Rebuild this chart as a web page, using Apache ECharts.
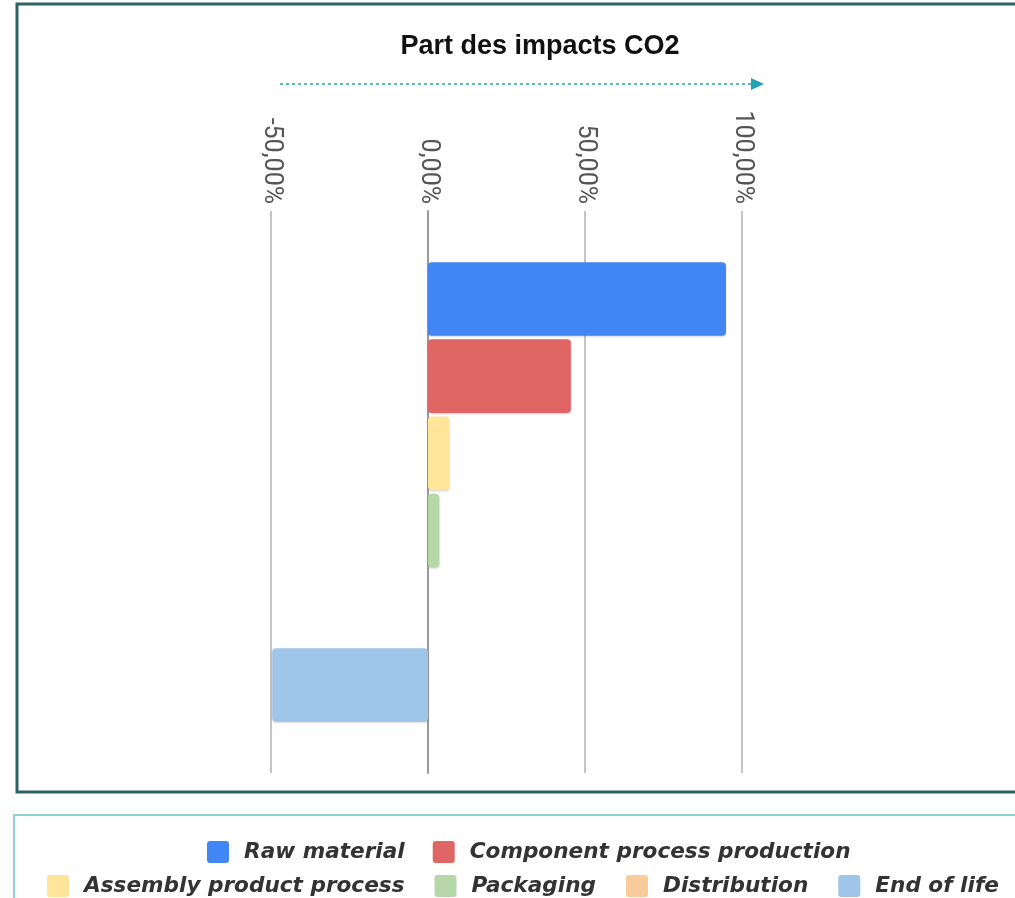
<!DOCTYPE html>
<html>
<head>
<meta charset="utf-8">
<script src="https://cdn.jsdelivr.net/npm/echarts@6/dist/echarts.min.js"></script>
<style>
html,body{margin:0;padding:0;background:#fff;}
#chart{width:1015px;height:898px;}
</style>
</head>
<body>
<div id="chart"></div>
<script>
// ---- data ----
var categories = ['CO2'];
var seriesNames = ['Raw material', 'Component process production', 'Assembly product process', 'Packaging', 'Distribution', 'End of life'];
var seriesValues = [94.9, 45.5, 6.8, 3.6, 0, -49.6];
var seriesColors = ['#4285F4', '#E06666', '#FFE599', '#B6D7A8', '#F9CB9C', '#9FC5E8'];
var xTicks = [-50, 0, 50, 100];
var titleText = 'Part des impacts CO2';

var chart = echarts.init(document.getElementById('chart'));

var series = seriesNames.map(function (name, i) {
  return {
    name: name,
    type: 'bar',
    data: [seriesValues[i]],
    barGap: '5%',
    barCategoryGap: '18.2%',
    itemStyle: {
      color: seriesColors[i],
      borderRadius: 4,
      shadowColor: 'rgba(0,0,0,0.18)',
      shadowBlur: 2,
      shadowOffsetY: 1
    }
  };
});

var legendText = {
  color: '#333',
  fontFamily: 'DejaVu Sans',
  fontStyle: 'italic',
  fontWeight: 'bold',
  fontSize: 21.6,
  padding: [0, 0, 0, 10]
};
var legendIcon = 'path://M3,0 L19,0 Q22,0 22,3 L22,19 Q22,22 19,22 L3,22 Q0,22 0,19 L0,3 Q0,0 3,0 Z';

var option = {
  animation: false,
  backgroundColor: '#fff',
  title: {
    text: titleText,
    left: 535,
    textAlign: 'center',
    top: 28,
    textStyle: { fontFamily: 'Liberation Sans', fontWeight: 'bold', fontSize: 27, color: '#111' }
  },
  legend: [
    {
      data: seriesNames.slice(0, 2),
      left: 202,
      top: 836,
      width: 800,
      itemWidth: 22, itemHeight: 22, itemGap: 28,
      icon: legendIcon,
      textStyle: legendText
    },
    {
      data: seriesNames.slice(2),
      left: 42,
      top: 870,
      width: 1000,
      itemWidth: 22, itemHeight: 22, itemGap: 30,
      icon: legendIcon,
      textStyle: legendText
    }
  ],
  grid: { left: 271, width: 471, top: 211, height: 562 },
  xAxis: {
    type: 'value',
    position: 'top',
    min: xTicks[0], max: xTicks[xTicks.length - 1], interval: 50,
    axisLine: { show: false },
    axisTick: { show: false },
    axisLabel: {
      rotate: 90,
      margin: 7,
      color: '#555',
      fontFamily: 'Roboto',
      fontSize: 25,
      formatter: function (v) { return v.toFixed(2).replace('.', ',') + '%'; }
    },
    splitLine: { lineStyle: { color: '#c4c4c4', width: 2 } }
  },
  yAxis: {
    type: 'category',
    data: categories,
    inverse: true,
    axisLabel: { show: false },
    axisTick: { show: false },
    axisLine: { show: true, onZero: true, lineStyle: { color: '#999', width: 2 } }
  },
  series: series,
  graphic: [
    { type: 'rect', shape: { x: 17, y: 4, width: 1010, height: 788 }, style: { fill: 'none', stroke: '#2E6366', lineWidth: 3 }, z: 100, silent: true },
    { type: 'rect', shape: { x: 14, y: 815, width: 1010, height: 120 }, style: { fill: 'none', stroke: '#8DD3D6', lineWidth: 2 }, z: 100, silent: true },
    { type: 'line', shape: { x1: 280, y1: 84, x2: 752, y2: 84 }, style: { stroke: '#1FA3B0', lineWidth: 1.5, lineDash: [3, 3] }, silent: true },
    { type: 'polygon', shape: { points: [[751, 78], [764, 84], [751, 90]] }, style: { fill: '#1FA3B0' }, silent: true }
  ]
};
chart.setOption(option);
</script>
</body>
</html>
